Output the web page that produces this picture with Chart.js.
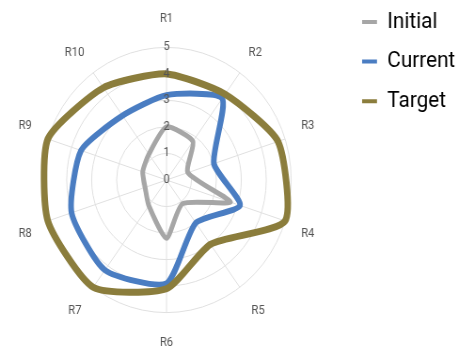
<!doctype html>
<html>
<head>
    <title>Radar Chart</title>
    <script src="https://cdn.jsdelivr.net/npm/chart.js@4.4.1/dist/chart.umd.min.js"></script>
    <style>
    html, body { margin: 0; padding: 0; overflow: hidden; background: #fff; }
    #holder {
        width: 487px;
        height: 351px;
        transform: scaleX(0.9405);
        transform-origin: 0 0;
    }
    </style>
</head>
<body>
    <div id="holder">
        <canvas id="chart-area"></canvas>
    </div>
    <script>
        var axisLabels = ['R1', 'R2', 'R3', 'R4', 'R5', 'R6', 'R7', 'R8', 'R9', 'R10'];
        var tickValues = [0, 1, 2, 3, 4, 5];

        var initialValues = [2, 1.8, 0.9, 2.7, 1.1, 2.2, 1.2, 0.9, 1, 1.2];
        var currentValues = [3.2, 3.8, 2, 3.1, 2, 3.9, 4.2, 4, 3.6, 3];
        var targetValues = [4, 4, 4.7, 5, 3, 4.1, 5, 5, 5, 4.3];

        var colors = {
            initial: '#a6a6a6',
            current: '#4a7dc2',
            target: '#8b7d3c'
        };

        // distance of each axis label from the outer ring
        var labelPadding = [19, 14, 16, 16, 19, 21, 19, 16, 16, 14];

        var config = {
            type: 'radar',
            data: {
                labels: axisLabels,
                datasets: [{
                    label: 'Initial',
                    data: initialValues,
                    borderColor: colors.initial,
                    backgroundColor: colors.initial,
                    borderWidth: 5,
                    order: 2
                }, {
                    label: 'Current',
                    data: currentValues,
                    borderColor: colors.current,
                    backgroundColor: colors.current,
                    borderWidth: 6,
                    order: 1
                }, {
                    label: 'Target',
                    data: targetValues,
                    borderColor: colors.target,
                    backgroundColor: colors.target,
                    borderWidth: 7,
                    order: 0
                }]
            },
            options: {
                responsive: true,
                maintainAspectRatio: false,
                animation: false,
                devicePixelRatio: 1,
                layout: {
                    padding: { top: 11, bottom: -2, left: 0, right: -7 }
                },
                elements: {
                    line: { fill: false, tension: 0.2, borderJoinStyle: 'round' },
                    point: { radius: 0, hoverRadius: 0 }
                },
                scales: {
                    r: {
                        min: -0.001,
                        max: tickValues[tickValues.length - 1],
                        afterSetDimensions: function(scale) {
                            // let the radar sit further left, like the original
                            scale.left -= 30;
                            scale.xCenter = Math.floor((scale.left + scale.right) / 2);
                        },
                        afterBuildTicks: function(scale) {
                            scale.ticks = tickValues.map(function(v) { return { value: v }; });
                        },
                        grid: { circular: true, color: '#e0e0e0', lineWidth: 1 },
                        angleLines: { color: '#e0e0e0', lineWidth: 1 },
                        ticks: {
                            z: 1,
                            showLabelBackdrop: false,
                            backdropPadding: -4,
                            color: '#555',
                            font: { family: 'Roboto', size: 12 }
                        },
                        pointLabels: {
                            color: '#555',
                            font: { family: 'Roboto', size: 12 },
                            padding: function(ctx) {
                                return labelPadding[ctx.index];
                            }
                        }
                    }
                },
                plugins: {
                    tooltip: { enabled: false },
                    legend: {
                        position: 'right',
                        align: 'start',
                        labels: {
                            padding: 0,
                            boxWidth: 16,
                            boxHeight: 4,
                            color: '#222',
                            font: { family: 'Roboto', size: 22, lineHeight: 1.8 },
                            generateLabels: function(chart) {
                                return chart.data.datasets.map(function(ds, i) {
                                    return {
                                        text: [ds.label],
                                        fillStyle: ds.borderColor,
                                        strokeStyle: ds.borderColor,
                                        lineWidth: 0,
                                        hidden: !chart.isDatasetVisible(i),
                                        datasetIndex: i
                                    };
                                });
                            }
                        }
                    }
                }
            }
        };

        window.onload = function() {
            var ctx = document.getElementById('chart-area').getContext('2d');
            window.myRadar = new Chart(ctx, config);
        };
    </script>
</body>
</html>
